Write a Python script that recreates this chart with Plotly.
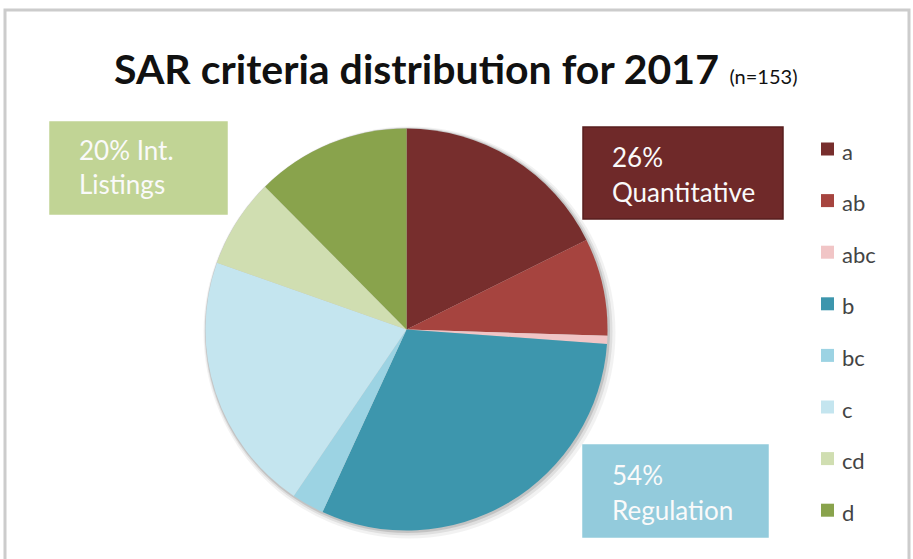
import plotly.graph_objects as go

# ---- data ----
categories = ["a", "ab", "abc", "b", "bc", "c", "cd", "d"]
counts = [27, 12, 1, 47, 4, 32, 11, 19]
colors = ["#772E2D", "#A6443F", "#F1C5C6", "#3D96AD", "#9CD3E3", "#C4E5EF", "#D0DEB1", "#89A34C"]
title_main = "SAR criteria distribution for 2017"
title_sub = "(n=153)"
group_labels = [("26%", "Quantitative"), ("54%", "Regulation"), ("20% Int.", "Listings")]

W, H = 913, 559
FONT = "Lato, 'Open Sans', sans-serif"

def px(x):
    return x / W

def py(y):
    return 1 - y / H

cx, cy, r = 406.5, 329.5, 201

fig = go.Figure()

# soft shadow layers behind pie
for extra, off, alpha in [(5, 3, 0.05), (3, 2, 0.08), (1.5, 1, 0.12)]:
    rr = r + extra
    fig.add_trace(go.Pie(
        values=[1], labels=["shadow"], marker=dict(colors=[f"rgba(0,0,0,{alpha})"], line=dict(width=0)),
        domain=dict(x=[px(cx + off - rr), px(cx + off + rr)], y=[py(cy + off + rr), py(cy + off - rr)]),
        textinfo="none", hoverinfo="skip", showlegend=False, sort=False,
    ))

fig.add_trace(go.Pie(
    labels=categories, values=counts,
    marker=dict(colors=colors, line=dict(width=0)),
    sort=False, direction="clockwise", rotation=0,
    textinfo="none", showlegend=False,
    domain=dict(x=[px(cx - r), px(cx + r)], y=[py(cy + r), py(cy - r)]),
))

shapes = []
annotations = []

# frame
shapes.append(dict(type="rect", xref="paper", yref="paper", x0=px(5), x1=px(909), y0=py(10), y1=py(600),
                   line=dict(color="#CCCCCC", width=3), fillcolor="rgba(0,0,0,0)", layer="below"))

# title
annotations.append(dict(
    text=f"<b>{title_main}</b> <span style='font-size:20px'>{title_sub}</span>",
    x=px(456), y=py(68), xref="paper", yref="paper", xanchor="center", yanchor="middle",
    showarrow=False, font=dict(family=FONT, size=41, color="#111111"),
))

# group label boxes
boxes = [
    # (x0, y0, x1, y1, fill, border)
    (583, 127, 783, 219, "#6F2929", "#581E1E"),
    (583, 445, 768, 537, "#93CBDC", "#93CBDC"),
    (50, 122, 227, 214, "#C1D495", "#C1D495"),
]
text_pos = [(610, 157, 192), (610, 475, 510), (77, 150, 184)]
for (x0, y0, x1, y1, fill, border), (tx, ty1, ty2), (l1, l2) in zip(boxes, text_pos, group_labels):
    shapes.append(dict(type="rect", xref="paper", yref="paper", x0=px(x0), x1=px(x1), y0=py(y1), y1=py(y0),
                       fillcolor=fill, line=dict(color=border, width=1.5)))
    for t, yy in [(l1, ty1), (l2, ty2)]:
        annotations.append(dict(text=t, x=px(tx), y=py(yy), xref="paper", yref="paper",
                                xanchor="left", yanchor="middle", showarrow=False,
                                font=dict(family=FONT, size=26, color="#FAFAFA")))

# legend (manual)
for i, (cat, col) in enumerate(zip(categories, colors)):
    yc = 149 + 51.6 * i
    shapes.append(dict(type="rect", xref="paper", yref="paper", x0=px(821), x1=px(834),
                       y0=py(yc + 6.5), y1=py(yc - 6.5), fillcolor=col, line=dict(width=0)))
    annotations.append(dict(text=cat, x=px(840), y=py(yc + 2), xref="paper", yref="paper",
                            xanchor="left", yanchor="middle", showarrow=False,
                            font=dict(family=FONT, size=22, color="#444444")))

fig.update_layout(
    width=W, height=H, margin=dict(l=0, r=0, t=0, b=0),
    paper_bgcolor="white", plot_bgcolor="white",
    shapes=shapes, annotations=annotations, showlegend=False,
)

fig.write_html("out.html", config={"displayModeBar": False},
               post_script="document.body.style.margin='0';")
